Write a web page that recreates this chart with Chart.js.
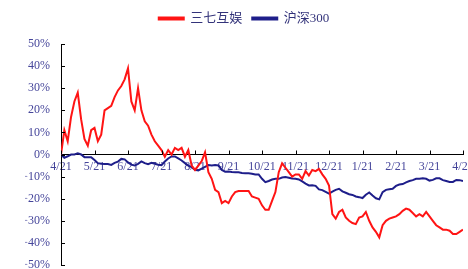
<!DOCTYPE html>
<html>
<head>
<meta charset="utf-8">
<script src="https://cdn.jsdelivr.net/npm/chart.js@4/dist/chart.umd.min.js"></script>
<style>
  html, body { margin: 0; padding: 0; background: #fff; }
  #wrap { width: 468px; height: 269px; }
</style>
</head>
<body>
<div id="wrap"><canvas id="myChart"></canvas></div>
<script>
// month tick labels (4/21 .. 4/21 next year)
const tickLabels = ["4/21", "5/21", "6/21", "7/21", "8/21", "9/21", "10/21", "11/21", "12/21", "1/21", "2/21", "3/21", "4/21"];
const seriesNames = ["三七互娱", "沪深300"];
const perMonth = 10; // samples per month

// cumulative return, %
const sanqi = [
  0, 11, 6, 17, 24, 28, 16, 7, 4, 11,
  12, 6, 9, 20, 21, 22, 26, 29, 31, 34,
  39, 24, 20, 30, 20, 15, 13, 9, 6, 4,
  2, -1, 2, 0, 3, 2, 3, -1, 2, -5,
  -7, -5, -3, 1, -8, -11, -16, -17, -22, -21,
  -22, -19, -17, -16.5, -16.5, -16.5, -16.5, -19, -19.5, -20,
  -23, -25, -25, -21, -17, -8, -4, -6, -8, -10,
  -9, -9, -11, -7.5, -9.5, -7, -7.5, -6.5, -9, -11,
  -14, -27, -29, -26, -25, -28.5, -30, -31, -31.5, -28.5,
  -28, -26, -30, -33, -35, -37.5, -32, -30, -29, -28.5,
  -28, -27, -25.5, -24.5, -25, -26.5, -28, -27, -28, -26,
  -28, -30, -32, -33, -34, -34, -34.5, -36, -36, -35,
  -34
];
const hs300 = [
  0, -1.5, -0.8, 0, 0, 0.5, 0, -1.2, -1.2, -1.2,
  -2.5, -3.9, -4.2, -4.3, -4.3, -4.7, -3.8, -3.2, -2, -2.2,
  -3.6, -4.6, -5, -4.2, -3.1, -3.9, -4.4, -3.8, -4.2, -4.6,
  -4.8, -3.2, -1.8, -0.9, -0.9, -1.8, -2.7, -3.9, -5, -5.7,
  -6.9, -7.2, -6.4, -5.6, -4.8, -5, -4.8, -5, -7, -7.8,
  -7.7, -7.9, -8, -8, -8.4, -8.5, -8.5, -8.7, -9, -9,
  -11, -12.5, -12, -11.3, -11, -11, -10.4, -10.2, -10.5, -10.9,
  -11, -11.3, -12.2, -13.2, -14, -13.9, -14.2, -15.8, -16.1, -16.9,
  -17.7, -16.8, -16, -15.5, -16.7, -17.3, -18, -18.3, -19, -19.3,
  -19.7, -18.2, -17.2, -18.6, -19.8, -20.3, -17, -16, -15.7, -15.5,
  -14.2, -13.6, -13.4, -12.6, -12, -11.6, -11, -11, -10.8, -11,
  -11.8, -11.5, -10.8, -10.8, -11.6, -12, -12.4, -12.4, -11.5, -11.6,
  -12
];

const labelColor = "#45459a";
const serif = "'Liberation Serif', 'Noto Sans CJK SC', serif";

// small inward tick marks like the original
const innerTicks = {
  id: "innerTicks",
  afterDraw(chart) {
    const ctx = chart.ctx;
    const xs = chart.scales.x, ys = chart.scales.y;
    const zero = ys.getPixelForValue(0);
    ctx.save();
    ctx.strokeStyle = "#000";
    ctx.lineWidth = 1;
    ctx.beginPath();
    ys.ticks.forEach(t => {
      const py = Math.round(ys.getPixelForValue(t.value)) + 0.5;
      ctx.moveTo(ys.right, py);
      ctx.lineTo(ys.right + 4, py);
    });
    xs.ticks.forEach(t => {
      const px = Math.round(xs.getPixelForValue(t.value)) + 0.5;
      ctx.moveTo(px, zero);
      ctx.lineTo(px, zero - 4);
    });
    ctx.stroke();
    ctx.restore();
  }
};

// fixed legend height so the plot starts where the original does
const legendGap = {
  id: "legendGap",
  beforeInit(chart) {
    const fit = chart.legend.fit;
    chart.legend.fit = function () {
      fit.bind(chart.legend)();
      this.height = 42;
    };
  }
};

new Chart("myChart", {
  type: "line",
  data: {
    datasets: [
      {
        label: seriesNames[0],
        data: sanqi.map((v, i) => ({ x: i / perMonth, y: v })),
        borderColor: "#ff1414",
        backgroundColor: "#ff1414",
        borderWidth: 2,
        pointRadius: 0,
        tension: 0,
      },
      {
        label: seriesNames[1],
        data: hs300.map((v, i) => ({ x: i / perMonth, y: v })),
        borderColor: "#1e1e8a",
        backgroundColor: "#1e1e8a",
        borderWidth: 2,
        pointRadius: 0,
        tension: 0,
      },
    ],
  },
  options: {
    responsive: true,
    maintainAspectRatio: false,
    animation: false,
    layout: { padding: { left: 25, right: 5, top: 2, bottom: 4 } },
    plugins: {
      legend: {
        position: "top",
        labels: {
          boxWidth: 25,
          boxHeight: 2,
          padding: 10,
          color: "#33337a",
          font: { family: serif, size: 13 },
        },
      },
      tooltip: { enabled: false },
    },
    scales: {
      x: {
        type: "linear",
        position: { y: 0 },
        min: 0,
        max: 12,
        afterFit(scale) {
          scale.height = 0;
          scale.paddingLeft = 0;
          scale.paddingRight = 0;
        },
        grid: { display: false, drawTicks: false },
        border: { display: true, color: "#000", width: 1 },
        ticks: {
          stepSize: 1,
          autoSkip: false,
          maxRotation: 0,
          padding: 5,
          color: labelColor,
          font: { family: serif, size: 12 },
          callback: (v) => tickLabels[v],
        },
      },
      y: {
        min: -50,
        max: 50,
        afterFit(scale) {
          scale.width = 36;
          scale.paddingTop = 0;
          scale.paddingBottom = 0;
        },
        grid: { display: false, drawTicks: false },
        border: { display: true, color: "#000", width: 1 },
        ticks: {
          stepSize: 10,
          padding: 11,
          color: labelColor,
          font: { family: serif, size: 12 },
          callback: (v) => (v < 0 ? "\u2212" + Math.abs(v) : v) + "%",
        },
      },
    },
  },
  plugins: [innerTicks, legendGap],
});
</script>
</body>
</html>
